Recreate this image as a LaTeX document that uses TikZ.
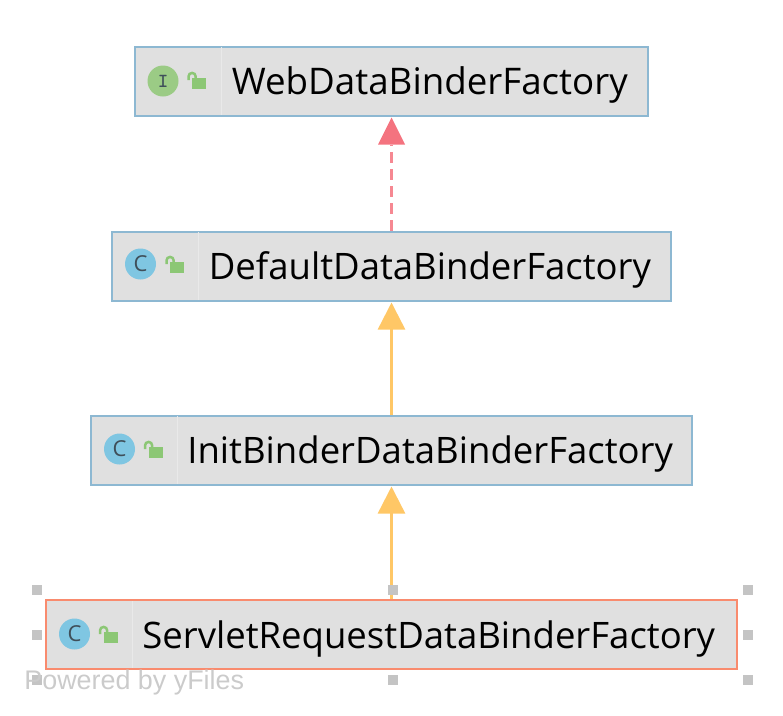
\documentclass[tikz,border=0pt]{standalone}
\usepackage{fontspec}
\setmainfont{Open Sans}
\newfontfamily\poweredfont{Liberation Sans}
\usetikzlibrary{arrows.meta}
\definecolor{boxfill}{HTML}{E0E0E0}
\definecolor{boxline}{HTML}{8DB8D2}
\definecolor{selline}{HTML}{F98B6E}
\definecolor{divline}{HTML}{E9E9E9}
\definecolor{iconI}{HTML}{9BCB85}
\definecolor{iconC}{HTML}{7FC6E2}
\definecolor{iconchar}{HTML}{3F4F5A}
\definecolor{lockgreen}{HTML}{8CC775}
\definecolor{implcolor}{HTML}{F4737F}
\definecolor{extcolor}{HTML}{FFC766}
\definecolor{handlecolor}{HTML}{C4C4C4}
\definecolor{poweredcolor}{HTML}{CBCBCB}
\tikzset{every picture/.style={line width=0.75pt}}
\tikzset{
  classbox/.style={draw=boxline, fill=boxfill, line width=2pt, minimum height=69pt, inner sep=0pt},
  classname/.style={anchor=base west, inner sep=0pt, font=\fontsize{36.5}{40}\selectfont, text=black},
  classicon/.style={circle, minimum size=31pt, inner sep=0pt, text=iconchar},
  iconi/.style={classicon, fill=iconI, font=\ttfamily\bfseries\fontsize{20}{20}\selectfont},
  iconc/.style={classicon, fill=iconC, font=\fontsize{22}{22}\selectfont},
  impl/.style={draw=implcolor!85, line width=2.5pt, dash pattern=on 11pt off 6pt, shorten >=1pt, -{Triangle[fill=implcolor, color=implcolor, line width=0pt, length=27pt, width=27pt]}},
  ext/.style={draw=extcolor, line width=2.5pt, shorten >=1pt, -{Triangle[fill=extcolor, length=27pt, width=27pt]}},
  handle/.style={fill=handlecolor, minimum size=10pt, inner sep=0pt},
  pics/lockicon/.style={code={
    \fill[lockgreen] (0,-3) rectangle (14,8);
    \draw[lockgreen, line width=2.5pt] (-3.5,-1) -- (-3.5,-4.5) arc[start angle=180, end angle=0, radius=3.6pt] -- (3.7,-3);
  }}
}

\begin{document}
\begin{tikzpicture}[x=1pt, y=-1pt]
    \useasboundingbox (0,0) rectangle (783,715);
    % class boxes
    \node[classbox, minimum width=513pt] (web) at (391.5,81) {};
    \node[classbox, minimum width=559pt] (default) at (391.5,266) {};
    \node[classbox, minimum width=601pt] (init) at (391.5,450) {};
    \node[classbox, draw=selline, minimum width=691pt] (servlet) at (391.5,634.5) {};
    % dividers
    \draw[divline, line width=1pt] (221.5,47) -- (221.5,115);
    \draw[divline, line width=1pt] (198.5,232) -- (198.5,300);
    \draw[divline, line width=1pt] (177.5,416) -- (177.5,484);
    \draw[divline, line width=1pt] (132.5,601) -- (132.5,668);
    % icons
    \node[iconi] (webicon) at (163,81) {I};
    \node[iconc] (defaulticon) at (140.5,264) {C};
    \node[iconc] (initicon) at (119.5,449) {C};
    \node[iconc] (servleticon) at (74.5,634) {C};
    \pic at (192,81) {lockicon};
    \pic at (170,265) {lockicon};
    \pic at (148.5,450) {lockicon};
    \pic at (103.5,635) {lockicon};
    % names
    \node[classname, font=\fontsize{36.7}{40}\selectfont] (webname) at (231.5,94) {WebDataBinderFactory};
    \node[classname] (defaultname) at (208.5,279) {DefaultDataBinderFactory};
    \node[classname] (initname) at (187,463) {InitBinderDataBinderFactory};
    \node[classname] (servletname) at (142,648) {ServletRequestDataBinderFactory};
    % connectors
    \draw[impl] (default) -- (web);
    \draw[ext] (init) -- (default);
    \draw[ext] (servlet) -- (init);
    % selection handles
    \node[handle] (h1) at (37,590) {};
    \node[handle] (h2) at (392.5,590) {};
    \node[handle] (h3) at (748,590) {};
    \node[handle] (h4) at (37,634.5) {};
    \node[handle] (h5) at (748,634.5) {};
    \node[handle] (h6) at (37,680) {};
    \node[handle] (h7) at (392.5,680) {};
    \node[handle] (h8) at (748,680) {};
    \node[anchor=base west, inner sep=0pt, text=poweredcolor, font=\poweredfont\fontsize{26.9}{28}\selectfont] (powered) at (24,689) {Powered by yFiles};
\end{tikzpicture}
\end{document}
